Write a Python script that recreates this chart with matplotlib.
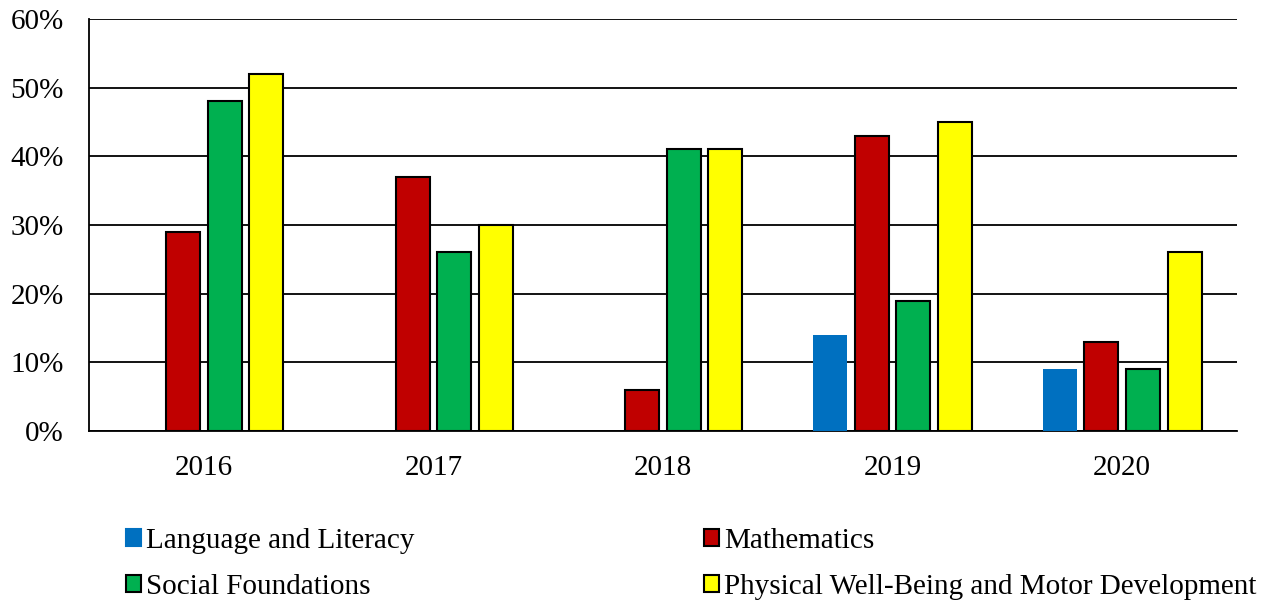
import matplotlib
matplotlib.use("Agg")
import matplotlib.pyplot as plt
import numpy as np
from matplotlib.patches import Patch

years = ["2016", "2017", "2018", "2019", "2020"]
series_names = ["Language and Literacy", "Mathematics", "Social Foundations",
                "Physical Well-Being and Motor Development"]
language = [0, 0, 0, 14, 9]
mathematics = [29, 37, 6, 43, 13]
social = [48, 26, 41, 19, 9]
physical = [52, 30, 41, 45, 26]
y_ticks = [0, 10, 20, 30, 40, 50, 60]

colors = ["#0070C0", "#C00000", "#00B050", "#FFFF00"]
edges = ["none", "black", "black", "black"]

plt.rcParams['font.family'] = ['Liberation Serif', 'DejaVu Serif']
FS = 21

fig = plt.figure(figsize=(12.82, 6.03), dpi=100)
ax = fig.add_axes([89/1282, 1 - 431/603, (1237-89)/1282, (431-19)/603])

x = np.arange(len(years))
pitch = 0.181
width = 0.148
all_series = [language, mathematics, social, physical]
for i, (vals, c, e) in enumerate(zip(all_series, colors, edges)):
    off = (i - 1.5) * pitch
    ax.bar(x + off, vals, width, color=c, edgecolor=e,
           linewidth=1.5 if e != "none" else 0, zorder=3)

ax.set_xlim(-0.5, 4.5)
ax.set_ylim(0, 60)
ax.set_yticks(y_ticks)
ax.set_yticklabels([f"{v}%" for v in y_ticks], fontsize=FS)
ax.set_xticks(x)
ax.set_xticklabels(years, fontsize=FS)
ax.tick_params(axis='both', length=0)
ax.tick_params(axis='y', pad=18)
ax.tick_params(axis='x', pad=17.5)
ax.grid(axis='y', color='black', linewidth=1.3, zorder=0)
for s in ["top", "right"]:
    ax.spines[s].set_visible(False)
ax.spines["left"].set_linewidth(1.3)
ax.spines["bottom"].set_linewidth(1.3)

handles = [Patch(facecolor=c, edgecolor=(e if e != "none" else c), linewidth=1.5)
           for c, e in zip(colors, edges)]
kw = dict(frameon=False, fontsize=FS, handlelength=0.5, handleheight=0.5,
          handletextpad=0.2, labelspacing=0.68, borderaxespad=0, borderpad=0)
leg1 = fig.legend([handles[0], handles[2]], [series_names[0], series_names[2]],
                  loc='upper left', bbox_to_anchor=(126/1282, 1 - 528/603), **kw)
leg2 = fig.legend([handles[1], handles[3]], [series_names[1], series_names[3]],
                  loc='upper left', bbox_to_anchor=(704/1282, 1 - 528/603), **kw)

fig.savefig("out.png", dpi=100)
